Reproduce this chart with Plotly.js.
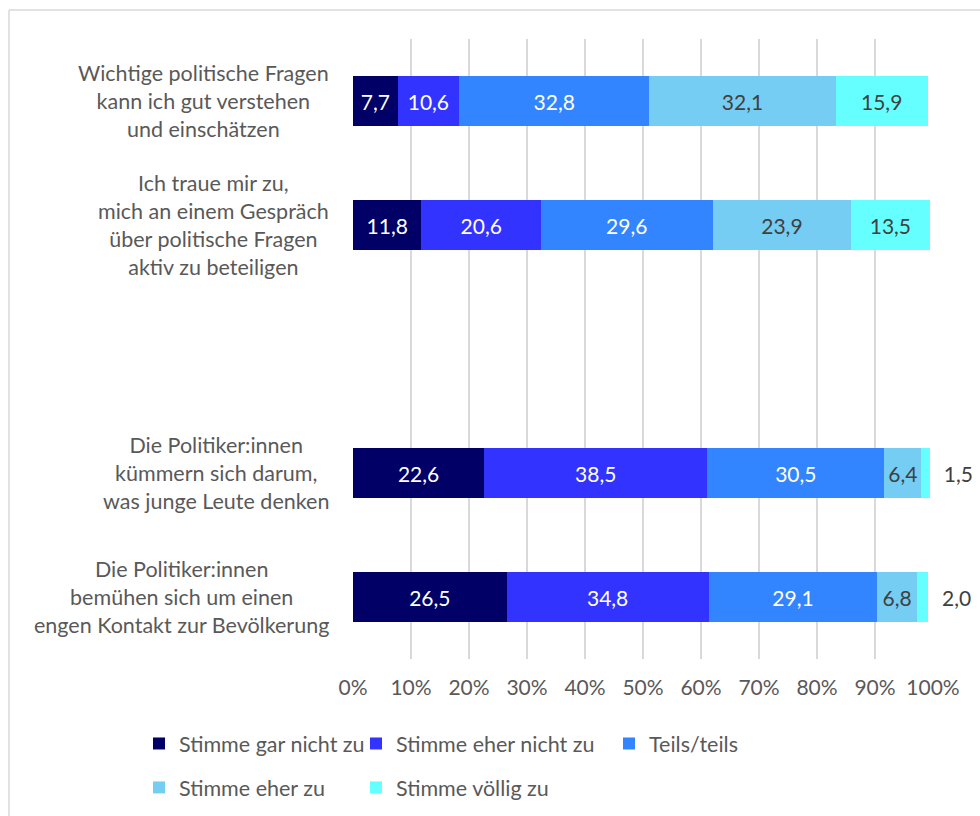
<!DOCTYPE html>
<html>
<head>
<meta charset="utf-8">
<script src="https://cdn.plot.ly/plotly-3.0.1.min.js"></script>
<style>html,body{margin:0;padding:0;background:#fff;}#chart{width:980px;height:816px;}</style>
</head>
<body>
<div id="chart"></div>
<script>
const categories = [
  "Wichtige politische Fragen<br>kann ich gut verstehen<br>und einschätzen",
  "Ich traue mir zu,<br>mich an einem Gespräch<br>über politische Fragen<br>aktiv zu beteiligen",
  " ",
  "Die Politiker:innen<br>kümmern sich darum,<br>was junge Leute denken",
  "Die Politiker:innen<br>bemühen sich um einen<br>engen Kontakt zur Bevölkerung"
];
const seriesNames = ["Stimme gar nicht zu", "Stimme eher nicht zu", "Teils/teils", "Stimme eher zu", "Stimme völlig zu"];
const garNichtZu   = [7.7, 11.8, null, 22.6, 26.5];
const eherNichtZu  = [10.6, 20.6, null, 38.5, 34.8];
const teilsTeils   = [32.8, 29.6, null, 30.5, 29.1];
const eherZu       = [32.1, 23.9, null, 6.4, 6.8];
const voelligZu    = [15.9, 13.5, null, 1.5, 2.0];
const xTicks = [0, 10, 20, 30, 40, 50, 60, 70, 80, 90, 100];
const xTickLabels = ["0%", "10%", "20%", "30%", "40%", "50%", "60%", "70%", "80%", "90%", "100%"];

const colors = ["#000066", "#3333FF", "#3385FF", "#75CDF3", "#66FFFF"];
const textColors = ["#FFFFFF", "#FFFFFF", "#FFFFFF", "#404040", "#404040"];
const legendIds = ["legend", "legend2", "legend3", "legend", "legend2"];
const allSeries = [garNichtZu, eherNichtZu, teilsTeils, eherZu, voelligZu];
const FONT = "Lato, 'Open Sans', sans-serif";
const isOutside = (i, v) => i === 4 && v !== null && v < 3;

const traces = allSeries.map((vals, i) => ({
  type: "bar",
  orientation: "h",
  name: seriesNames[i],
  y: categories,
  x: vals,
  marker: {color: colors[i], line: {width: 0}},
  texttemplate: vals.map(v => isOutside(i, v) ? "\u00A0\u00A0%{x:.1f}" : "%{x:.1f}"),
  textposition: vals.map(v => isOutside(i, v) ? "outside" : "inside"),
  insidetextanchor: "middle",
  constraintext: "none",
  textangle: 0,
  textfont: {family: FONT, size: 21, color: textColors[i]},
  outsidetextfont: {family: FONT, size: 21, color: "#404040"},
  cliponaxis: false,
  legend: legendIds[i],
  legendgroup: "g" + i,
  hoverinfo: "x+name"
}));

const px = p => (p - 353) / 580;
const py = p => (659 - p) / 620;
const cx = p => p / 980;
const cy = p => 1 - p / 816;

const annotations = categories.filter(c => c.trim() !== "").map(c => ({
  xref: "paper", yref: "y",
  x: px(331), y: c,
  xanchor: "right", yanchor: "middle",
  align: "center",
  text: c,
  showarrow: false,
  font: {family: FONT, size: 21.5, color: "#595959"}
}));

const legendBase = {
  orientation: "v",
  traceorder: "grouped",
  tracegroupgap: 13,
  xref: "container",
  yref: "container",
  xanchor: "left",
  yanchor: "top",
  y: cy(723),
  bgcolor: "rgba(0,0,0,0)",
  font: {family: FONT, size: 21.5, color: "#595959"}
};

const layout = {
  width: 980, height: 816,
  margin: {l: 353, r: 47, t: 39, b: 157, autoexpand: false},
  paper_bgcolor: "#FFFFFF",
  plot_bgcolor: "#FFFFFF",
  barmode: "stack",
  bargap: 0.594,
  separators: ",.",
  font: {family: FONT, color: "#595959"},
  xaxis: {
    range: [0, 100],
    tickmode: "array",
    tickvals: xTicks,
    ticktext: xTickLabels,
    showgrid: true,
    gridcolor: "#D9D9D9",
    gridwidth: 1.5,
    zeroline: false,
    showline: false,
    ticks: "",
    ticklabelstandoff: 14,
    tickfont: {family: FONT, size: 21, color: "#595959"},
    automargin: false,
    fixedrange: true
  },
  yaxis: {
    type: "category",
    categoryorder: "array",
    categoryarray: categories,
    autorange: "reversed",
    showticklabels: false,
    showgrid: false,
    zeroline: false,
    ticks: "",
    automargin: false,
    fixedrange: true
  },
  showlegend: true,
  legend: Object.assign({}, legendBase, {x: cx(139)}),
  legend2: Object.assign({}, legendBase, {x: cx(356)}),
  legend3: Object.assign({}, legendBase, {x: cx(609)}),
  annotations: annotations,
  shapes: [
    {type: "line", xref: "paper", yref: "paper", x0: px(9), x1: px(9), y0: py(10), y1: py(830), line: {color: "#D9D9D9", width: 1.5}},
    {type: "line", xref: "paper", yref: "paper", x0: px(9), x1: px(990), y0: py(10), y1: py(10), line: {color: "#D9D9D9", width: 1.5}}
  ]
};

Plotly.newPlot("chart", traces, layout, {displayModeBar: false, staticPlot: true});
</script>
</body>
</html>
